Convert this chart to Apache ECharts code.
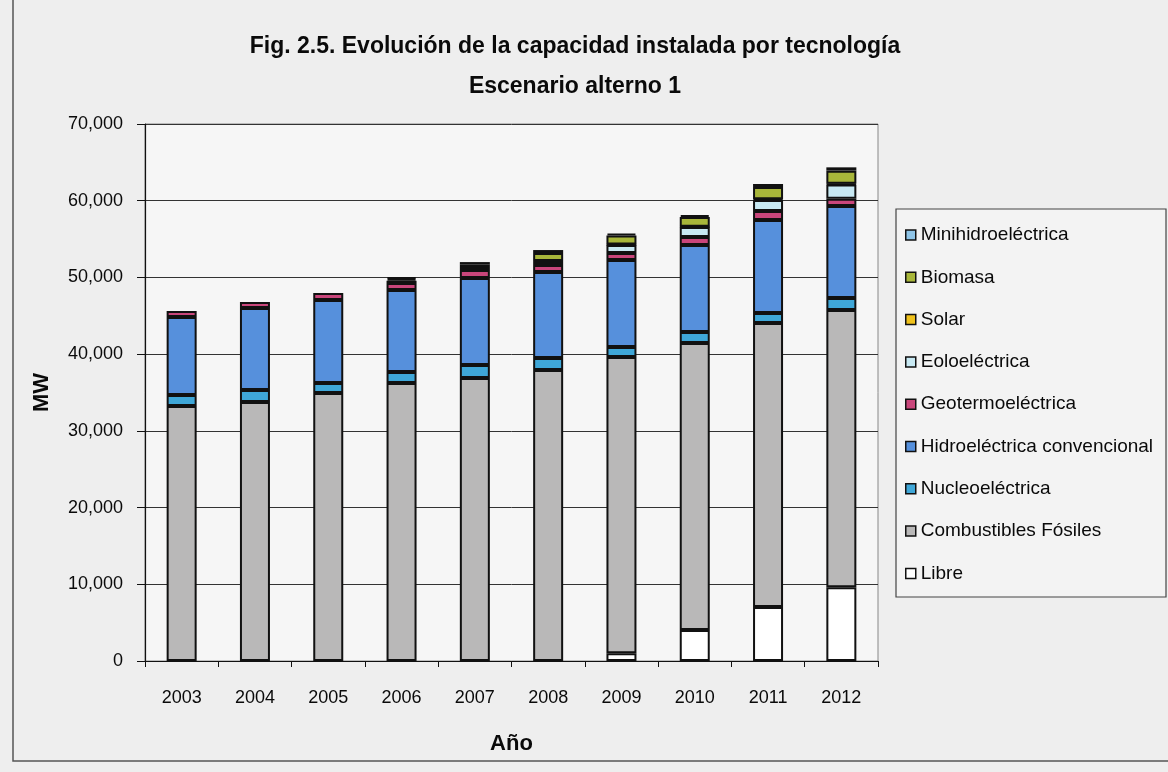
<!DOCTYPE html>
<html>
<head>
<meta charset="utf-8">
<title>Capacidad instalada por tecnología</title>
<script src="https://cdn.jsdelivr.net/npm/echarts@6/dist/echarts.min.js"></script>
<style>
  html, body { margin: 0; padding: 0; background: #eeeeee; }
  #chart { width: 1168px; height: 772px; }
</style>
</head>
<body>
<div id="chart"></div>
<script>
// Capacidad instalada (MW) por tecnología, escenario alterno 1
const years = ['2003', '2004', '2005', '2006', '2007', '2008', '2009', '2010', '2011', '2012'];
const libre      = [null, null, null, null, null, null, 1000, 4050, 7040, 9600];
const fosiles    = [33240, 33760, 34930, 36240, 36890, 37930, 38630, 37400, 37020, 36150];
const nucleo     = [1430, 1570, 1310, 1430, 1690, 1570, 1300, 1440, 1300, 1570];
const hidro      = [10170, 10680, 10820, 10690, 11340, 11200, 11340, 11340, 12120, 11990];
const geotermo   = [780, 790, 910, 910, 1040, 920, 910, 1040, 1180, 960];
const eolo       = [null, null, null, 300, 400, 520, 1050, 1300, 1430, 1830];
const solar      = [null, null, null, null, null, null, 50, 50, 100, 100];
const biomasa    = [null, null, null, 250, 350, 1040, 1170, 1260, 1600, 1720];
const minihidro  = [null, null, null, 230, 290, 390, 260, 260, 390, 430];
const yTicks = { min: 0, max: 70000, interval: 10000 };

const FONT = '"Liberation Sans", Arial, sans-serif';

// stacked from the bottom up
const layers = [
  { name: 'Libre', data: libre, color: '#ffffff' },
  { name: 'Combustibles Fósiles', data: fosiles, color: '#b9b8b8' },
  { name: 'Nucleoeléctrica', data: nucleo, color: '#3fa7d8' },
  { name: 'Hidroeléctrica convencional', data: hidro, color: '#5690dc' },
  { name: 'Geotermoeléctrica', data: geotermo, color: '#c9467b' },
  { name: 'Eoloeléctrica', data: eolo, color: '#c8e9f3' },
  { name: 'Solar', data: solar, color: '#f0c21c' },
  { name: 'Biomasa', data: biomasa, color: '#a8b63a' },
  { name: 'Minihidroeléctrica', data: minihidro, color: '#8fc5e8' }
];

// empty segments get no outline, so they leave no stray line on the stack
const toItems = arr => arr.map(v => v == null
  ? { value: null, itemStyle: { borderWidth: 0, color: 'transparent' } }
  : v);

const chart = echarts.init(document.getElementById('chart'), null, { renderer: 'canvas' });

chart.setOption({
  backgroundColor: '#eeeeee',
  animation: false,
  graphic: [
    {
      type: 'rect', z: -10, silent: true,
      shape: { x: 13, y: -10, width: 1180, height: 771 },
      style: { fill: 'none', stroke: '#555', lineWidth: 1.5 }
    },
    {
      type: 'rect', z: -5, silent: true,
      shape: { x: 896, y: 209, width: 270, height: 388 },
      style: { fill: '#f3f3f3', stroke: '#444', lineWidth: 1.2 }
    },
    {
      type: 'text', silent: true,
      style: {
        text: 'Fig. 2.5. Evolución de la capacidad instalada por tecnología',
        x: 575, y: 47, align: 'center', verticalAlign: 'middle',
        font: 'bold 23px ' + FONT, fill: '#0a0a0a'
      }
    },
    {
      type: 'text', silent: true,
      style: {
        text: 'Escenario alterno 1',
        x: 575, y: 87, align: 'center', verticalAlign: 'middle',
        font: 'bold 23px ' + FONT, fill: '#0a0a0a'
      }
    }
  ],
  grid: {
    left: 145, top: 124, width: 733, height: 537,
    show: true, backgroundColor: '#f6f6f6', borderColor: '#888', borderWidth: 1
  },
  legend: {
    orient: 'vertical',
    left: 900, top: 220,
    itemWidth: 10, itemHeight: 10,
    itemGap: 22.3,
    icon: 'rect',
    itemStyle: { borderColor: '#111', borderWidth: 1.5 },
    textStyle: { fontFamily: FONT, fontSize: 19, color: '#0a0a0a', lineHeight: 20 },
    data: layers.map(l => l.name).reverse()
  },
  xAxis: {
    type: 'category',
    data: years,
    name: 'Año',
    nameLocation: 'middle',
    nameGap: 72,
    nameTextStyle: { fontFamily: FONT, fontSize: 22, fontWeight: 'bold', color: '#0a0a0a' },
    axisLine: { lineStyle: { color: '#111', width: 1.2 } },
    axisTick: { show: true, length: 6, interval: 0, lineStyle: { color: '#111' } },
    axisLabel: { fontFamily: FONT, fontSize: 18, color: '#0a0a0a', margin: 28 }
  },
  yAxis: {
    type: 'value',
    min: yTicks.min, max: yTicks.max, interval: yTicks.interval,
    name: 'MW',
    nameLocation: 'middle',
    nameGap: 92,
    nameRotate: 90,
    nameTextStyle: { fontFamily: FONT, fontSize: 22, fontWeight: 'bold', color: '#0a0a0a' },
    axisLine: { show: true, lineStyle: { color: '#111', width: 1.2 } },
    axisTick: { show: true, length: 8, lineStyle: { color: '#111' } },
    axisLabel: {
      fontFamily: FONT, fontSize: 18, color: '#0a0a0a', margin: 22,
      formatter: v => v.toLocaleString('en-US')
    },
    splitLine: { show: true, lineStyle: { color: '#333', width: 1 } }
  },
  series: layers.map(l => ({
    name: l.name,
    type: 'bar',
    stack: 'capacidad',
    barWidth: 30,
    data: toItems(l.data),
    itemStyle: { color: l.color, borderColor: '#111', borderWidth: 2 },
    emphasis: { disabled: true }
  }))
});
</script>
</body>
</html>
